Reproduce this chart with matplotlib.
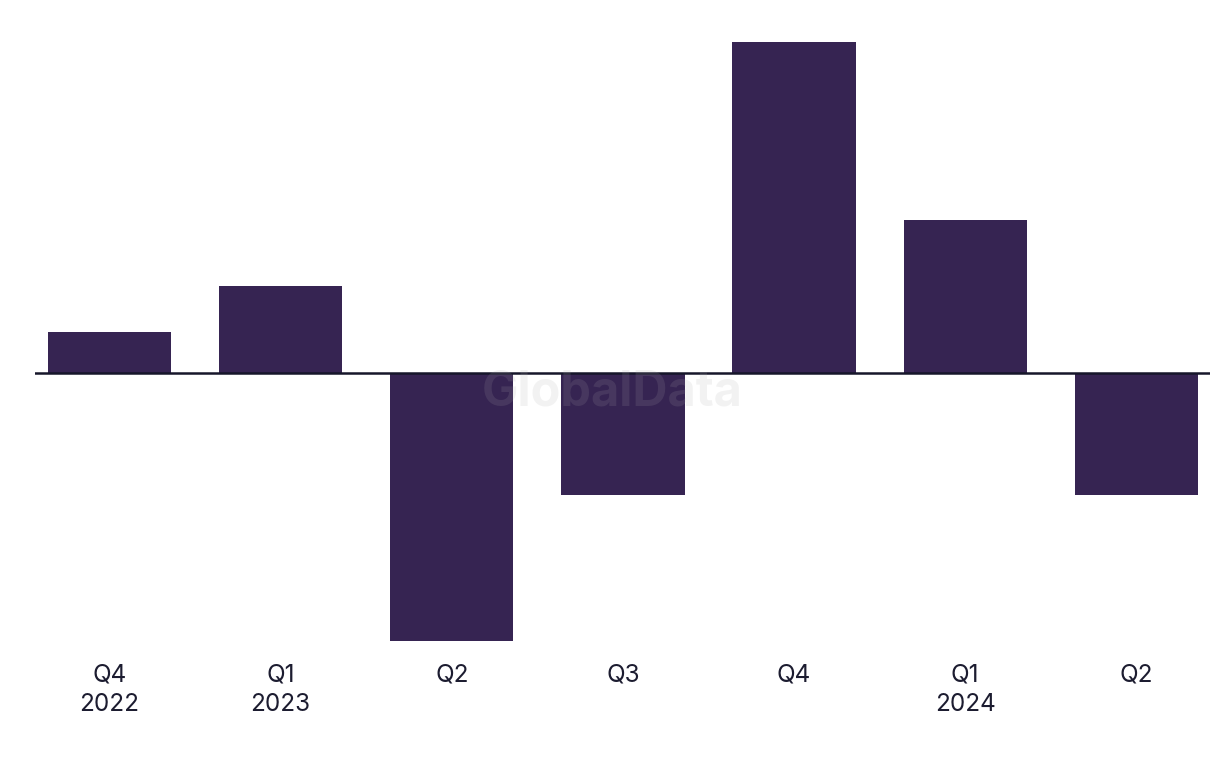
import matplotlib.pyplot as plt
import numpy as np

quarters = ['Q4', 'Q1', 'Q2', 'Q3', 'Q4', 'Q1', 'Q2']
years = ['2022', '2023', '', '', '', '2024', '']
values = [1.0, 2.15, -6.7, -3.05, 8.25, 3.8, -3.05]

labels = [q + ('\n' + y if y else '') for q, y in zip(quarters, years)]
x = np.arange(len(values))

plt.rcParams['font.family'] = ['Inter', 'DejaVu Sans']

fig = plt.figure(figsize=(12.2, 7.68), dpi=100)
ax = fig.add_axes([35 / 1220, (768 - 641) / 768, 1175 / 1220, 599 / 768])

ax.bar(x, values, width=0.72, color='#362452', zorder=2)
ax.axhline(0, color='#16162a', linewidth=1.8, zorder=3)

ax.set_xlim(-0.435, 6.43)
ax.set_ylim(min(values), max(values))

ax.set_xticks(x)
ax.set_xticklabels(labels, fontsize=17.5, color='#1c1c30', linespacing=1.38,
                   verticalalignment='top')
ax.tick_params(axis='x', length=0, pad=16)
ax.set_yticks([])
for s in ax.spines.values():
    s.set_visible(False)

ax.text(0.491, 0.415, 'GlobalData', transform=ax.transAxes, ha='center', va='center',
        fontsize=35, fontweight='bold', color='#aaaaaa', alpha=0.15, zorder=4)

fig.savefig('out.png', dpi=100)
